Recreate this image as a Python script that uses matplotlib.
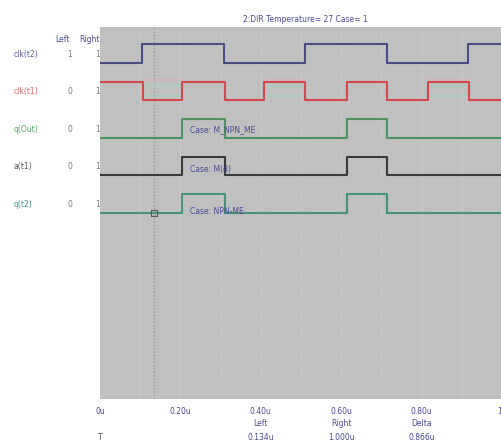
import numpy as np
import matplotlib.pyplot as plt

# signal names and cursor readouts
names = ['clk(t2)', 'clk(t1)', 'q(Out)', 'a(t1)', 'q(t2)']
left_vals = ['1', '0', '0', '0', '0']
right_vals = ['1', '1', '1', '1', '1']
start_state = [0, 1, 0, 0, 0]

# transition times (us)
clk2_edges = [0.104, 0.308, 0.510, 0.713, 0.915]
clk1_edges = [0.106, 0.205, 0.310, 0.407, 0.510, 0.615, 0.715, 0.815, 0.917]
qout_edges = [0.205, 0.310, 0.615, 0.715]
a1_edges = [0.205, 0.310, 0.615, 0.715]
q2_edges = [0.205, 0.310, 0.615, 0.715]
all_edges = [clk2_edges, clk1_edges, qout_edges, a1_edges, q2_edges]

# faint ghost traces seen inside the clk(t1) row
ghost_start = [0.106, 0.407, 0.815]
ghost_end = [0.205, 0.510, 0.917]

tick_vals = [0, 0.2, 0.4, 0.6, 0.8, 1.0]
tick_labels = ['0u', '0.20u', '0.40u', '0.60u', '0.80u', '1']

cursor_left = 0.134
cursor_right = 1.000
case_notes = ['Case: M_NPN_ME', 'Case: M(d)', 'Case: NPN-ME']

title = '2:DIR Temperature= 27 Case= 1'

line_colors = ['#4c4c86', '#d44a4a', '#4a9462', '#3a3a3a', '#44937a']
label_colors = ['#5a5aa0', '#e06a6a', '#5aaa6a', '#555555', '#3a9a80']
txt_blue = '#4a4a96'

W, H = 502, 443
fig = plt.figure(figsize=(W / 100, H / 100), dpi=100)
fig.patch.set_facecolor('white')

top_px, bot_px, left_px = 27, 399, 100
ax = fig.add_axes([left_px / W, 1 - bot_px / H, 1 - left_px / W, (bot_px - top_px) / H])
ax.set_facecolor('#c0c0c0')
ax.set_xlim(0, 1.0)
ax.set_ylim(bot_px, top_px)
for s in ax.spines.values():
    s.set_visible(False)

# faint dotted grid
for gx in np.arange(0.1, 1.0, 0.1):
    ax.axvline(gx, color='#d4d4d4', lw=0.8, ls=(0, (1, 2)), zorder=1)
    ax.axvline(gx + 0.015, color='#cacaca', lw=0.6, ls=(0, (1, 3)), zorder=1)

# cursor
ax.axvline(cursor_left, color='#8a8a8a', lw=0.8, ls=(0, (1, 2)), zorder=2)

row0_low, row_gap, amp = 62.7, 37.5, 18.5

def wave(edges, s0):
    t = [0.0]
    v = [s0]
    s = s0
    for e in edges:
        s = 1 - s
        t.append(e)
        v.append(s)
    t.append(1.0)
    v.append(s)
    return np.array(t), np.array(v)

for i, edges in enumerate(all_edges):
    t, v = wave(edges, start_state[i])
    low = row0_low + row_gap * i
    y = low - amp * v
    ax.step(t, y, where='post', color=line_colors[i], lw=1.5, zorder=3)

    mid = low - amp / 2
    fig.text(14 / W, 1 - (mid + 1) / H, names[i], color=label_colors[i],
             fontsize=5.5, va='center', ha='left')
    fig.text(70 / W, 1 - (mid + 1) / H, left_vals[i], color='#777777',
             fontsize=5.5, va='center', ha='center')
    fig.text(98 / W, 1 - (mid + 1) / H, right_vals[i], color='#777777',
             fontsize=5.5, va='center', ha='center', zorder=-1)

# ghost bands in the clk(t1) row
clk1_low = row0_low + row_gap
for gs, ge in zip(ghost_start, ghost_end):
    ax.hlines([clk1_low - amp + 3, clk1_low - 5], gs, ge, color='#a9cdbd', lw=2.0, alpha=0.7, zorder=2)
    ax.hlines([clk1_low - amp - 2], gs, ge, color='#d9b0b0', lw=1.5, alpha=0.6, zorder=2)

# cursor marker on last trace
ax.plot([cursor_left], [row0_low + row_gap * 4], marker='s', ms=5, mfc='none',
        mec='#555555', mew=0.8, zorder=4)

# case annotations
note_y = [130, 170, 212]
for note, ny in zip(case_notes, note_y):
    ax.text(0.224, ny, note, color=txt_blue, fontsize=5.5, va='center', ha='left', zorder=5)

fig.text(63 / W, 1 - 40 / H, 'Left', color=txt_blue, fontsize=5.5, ha='center', va='center')
fig.text(90 / W, 1 - 40 / H, 'Right', color=txt_blue, fontsize=5.5, ha='center', va='center', zorder=-1)
fig.text(305 / W, 1 - 19 / H, title, color=txt_blue, fontsize=5.5, ha='center', va='center')

ax.set_xticks(tick_vals)
ax.set_xticklabels(tick_labels, color=txt_blue, fontsize=5.5)
ax.get_xticklabels()[-1].set_ha('right')
ax.tick_params(axis='x', length=0, pad=6)
ax.set_yticks([])

# cursor readout under the axis
read_x = [0.4, 0.6, 0.8]
read_hdr = ['Left', 'Right', 'Delta']
read_val = ['%.3fu' % cursor_left, '%.3fu' % cursor_right, '%.3fu' % (cursor_right - cursor_left)]
for rx, hd, rv in zip(read_x, read_hdr, read_val):
    px = left_px + rx * (W - left_px)
    fig.text(px / W, 1 - 423 / H, hd, color=txt_blue, fontsize=5.5, ha='center', va='center')
    fig.text(px / W, 1 - 438 / H, rv, color=txt_blue, fontsize=5.5, ha='center', va='center')
fig.text(100 / W, 1 - 438 / H, 'T', color='#555555', fontsize=5.5, ha='center', va='center')

fig.savefig('out.png', dpi=100)
